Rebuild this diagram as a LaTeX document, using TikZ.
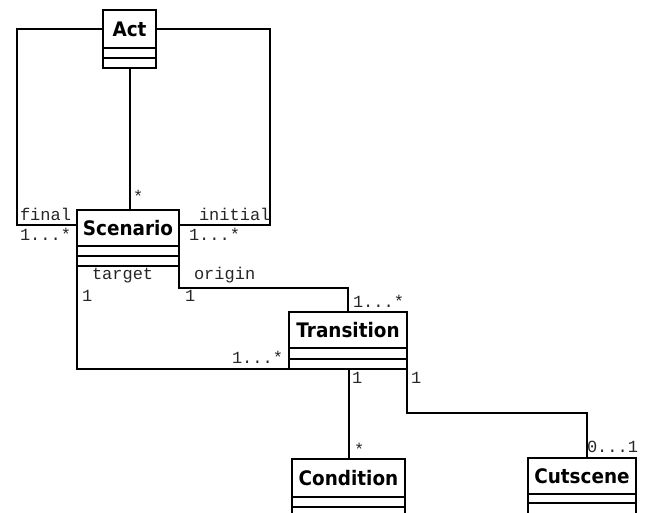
\documentclass[tikz,border=0pt]{standalone}
\usepackage{fontspec}
\newfontfamily\namefont{DejaVu Sans}[FakeStretch=0.92]
\newfontfamily\labfont{Liberation Mono}
\usetikzlibrary{calc}
\begin{document}
\begin{tikzpicture}[x=1pt,y=-1pt,
  box/.style={draw=black, line width=2pt, fill=white, inner sep=0pt, outer sep=0pt},
  namebox/.style={box, font=\namefont\bfseries\fontsize{20}{20}\selectfont, text height=14.6pt, text depth=0pt},
  conn/.style={draw=black, line width=2pt},
  lbl/.style={inner sep=0pt, outer sep=0pt, anchor=base west, font=\labfont\fontsize{17}{17}\selectfont, text=black!85}]
\useasboundingbox (0,0) rectangle (646,513);
\clip (0,0) rectangle (646,513);

% connectors (drawn first, boxes on top)
\coordinate (fl) at (17,225);
\coordinate (il) at (270,225);
\coordinate (oc) at (348,288);
\coordinate (cc) at (587,413);

% Act
\node[namebox, minimum width=53, minimum height=38] (act) at (129.5,29) {Act};
\node[box, minimum width=53, minimum height=10, anchor=north] (act2) at (act.south) {};
\node[box, minimum width=53, minimum height=10, anchor=north] (act3) at (act2.south) {};

% Scenario
\node[namebox, minimum width=102, minimum height=36] (scen) at (128,228) {Scenario};
\node[box, minimum width=102, minimum height=10, anchor=north] (scen2) at (scen.south) {};
\node[box, minimum width=102, minimum height=10, anchor=north] (scen3) at (scen2.south) {};

% Transition
\node[namebox, minimum width=118, minimum height=36] (trans) at (348,330) {Transition};
\node[box, minimum width=118, minimum height=11, anchor=north] (trans2) at (trans.south) {};
\node[box, minimum width=118, minimum height=10, anchor=north] (trans3) at (trans2.south) {};

% Condition
\node[namebox, minimum width=113, minimum height=38] (cond) at (348.5,478) {Condition};
\node[box, minimum width=113, minimum height=10, anchor=north] (cond2) at (cond.south) {};
\node[box, minimum width=113, minimum height=30, anchor=north] (cond3) at (cond2.south) {};

% Cutscene
\node[namebox, minimum width=108, minimum height=36] (cut) at (582,476) {Cutscene};
\node[box, minimum width=108, minimum height=9, anchor=north] (cut2) at (cut.south) {};
\node[box, minimum width=108, minimum height=30, anchor=north] (cut3) at (cut2.south) {};

% connectors
\draw[conn] (act.west) -| (fl) -- (fl -| scen.west);
\draw[conn] (act.east) -| (il) -- (il -| scen.east);
\draw[conn] (act3.south) -- (act3.south |- scen.north);
\draw[conn] (scen3.south west) |- (trans3.south west);
\draw[conn] (scen3.south east) |- (oc) -- (oc |- trans.north);
\draw[conn] (cond.north) -- (cond.north |- trans3.south);
\draw[conn] (trans3.south east) |- (cc) -- (cc |- cut.north);

% labels
\node[lbl] (l1) at (20,221) {final};
\node[lbl] (l2) at (20,241) {1...*};
\node[lbl] (l3) at (199,221) {initial};
\node[lbl] (l4) at (189,241) {1...*};
\node[lbl] (l5) at (133,203) {*};
\node[lbl] (l6) at (92,280) {target};
\node[lbl] (l7) at (194,280) {origin};
\node[lbl] (l8) at (82,302) {1};
\node[lbl] (l9) at (185,302) {1};
\node[lbl] (l10) at (353,308) {1...*};
\node[lbl] (l11) at (232,363) {1...*};
\node[lbl] (l12) at (352,384) {1};
\node[lbl] (l13) at (411,384) {1};
\node[lbl] (l14) at (354,455) {*};
\node[lbl] (l15) at (587,453) {0...1};
\end{tikzpicture}
\end{document}
